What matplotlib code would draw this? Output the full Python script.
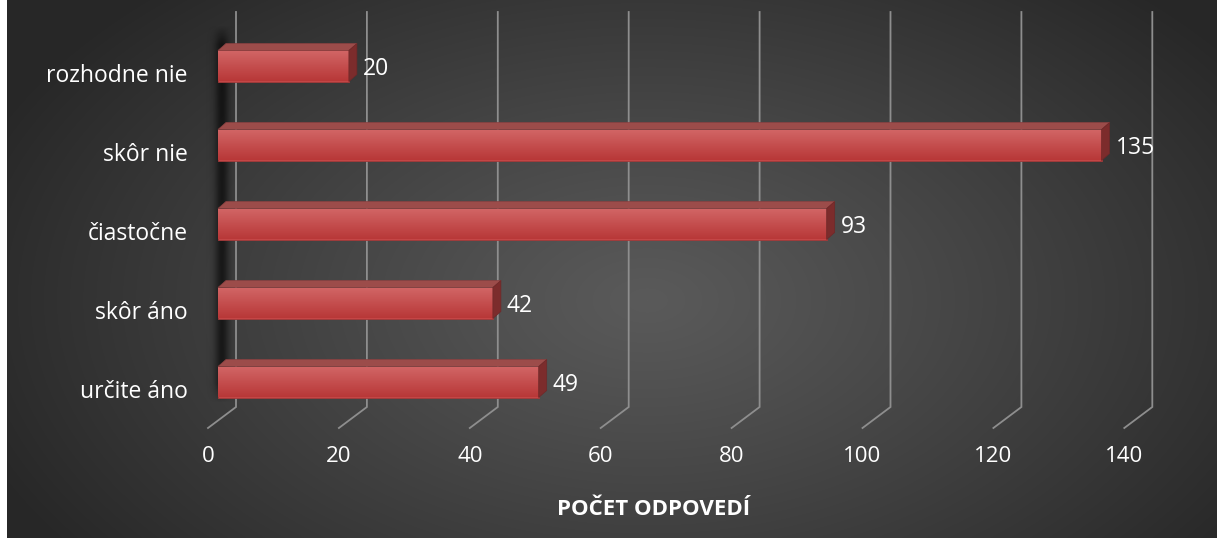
import numpy as np
import matplotlib
matplotlib.use("Agg")
import matplotlib.pyplot as plt
from matplotlib.patches import Polygon

plt.rcParams['font.family'] = ['Open Sans', 'DejaVu Sans']

# ---- data ----
categories = ["určite áno", "skôr áno", "čiastočne", "skôr nie", "rozhodne nie"]
values = [49, 42, 93, 135, 20]
x_ticks = [0, 20, 40, 60, 80, 100, 120, 140]
x_title = "POČET ODPOVEDÍ"

W, H = 1217, 538
fig = plt.figure(figsize=(W / 100, H / 100), dpi=100)
fig.patch.set_facecolor("white")

# ---- dark radial backdrop ----
bg = fig.add_axes([7 / W, 0, 1 - 7 / W, 1])
bg.set_axis_off()
yy, xx = np.mgrid[0:H, 0:W - 7]
r = np.sqrt(((xx - 640) / 720.0) ** 2 + ((yy - 300) / 430.0) ** 2)
r = np.clip(r, 0, 1) ** 1.1
c_in = np.array([0x5a, 0x5a, 0x5a]) / 255
c_out = np.array([0x27, 0x27, 0x27]) / 255
img = c_in[None, None, :] + (c_out - c_in)[None, None, :] * r[..., None]
bg.imshow(img, aspect="auto", extent=(0, 1, 0, 1), interpolation="bilinear")
bg.set_xlim(0, 1)
bg.set_ylim(0, 1)

# ---- chart axes (front plane: value 0 at x=218px, 6.545 px per unit) ----
SX = 6.545          # px per value unit
SY = 79.0           # px per category step
X0, Y0 = 218.0, 382.0
ax = fig.add_axes([0, 0, 1, 1])
ax.set_axis_off()
ax.patch.set_alpha(0)
ax.set_xlim(-X0 / SX, (W - X0) / SX)
ax.set_ylim((Y0 - H) / SY, Y0 / SY)


def px(dx):
    return dx / SX


def py(dy):
    return dy / SY


def yrow(y_img):
    return (Y0 - y_img) / SY


# gridlines: back wall verticals plus floor slants
grid_col = "#8e8e8e"
for t in x_ticks:
    xb = t + px(18)
    xf = t - px(10)
    ax.plot([xb, xb, xf], [yrow(12), yrow(407), yrow(428)],
            color=grid_col, lw=1.3, solid_joinstyle="miter", zorder=1)
    ax.text(xf, yrow(456), f"{t}", color="white", fontsize=16,
            ha="center", va="center", zorder=5)

# soft shadow cast by the side wall
sx = np.linspace(-16, 18, 80)
sy = np.linspace(0, 1, 120)
prof_x = np.exp(-0.5 * ((sx - 4) / 5.0) ** 2)
prof_y = np.clip(np.minimum(sy / 0.05, (1 - sy) / 0.05), 0, 1)
alpha = (prof_y[:, None] * prof_x[None, :]) * 0.6
shadow = np.zeros((120, 80, 4))
shadow[..., 3] = alpha
ax.imshow(shadow, extent=(px(-16), px(18), yrow(404), yrow(24)),
          aspect="auto", interpolation="bilinear", zorder=2)

# ---- 3D bars ----
pos = np.arange(len(categories))
bh = py(31)
ddx, ddy = px(8), py(7)
bars = ax.barh(pos, values, height=bh, left=0, color="#c44646",
               edgecolor="#a33a3a", linewidth=0.6, zorder=4)

grad = np.linspace(0, 1, 64)[:, None]
c_top = np.array([0xd2, 0x66, 0x66]) / 255
c_bot = np.array([0xb8, 0x38, 0x38]) / 255
grad_img = c_top[None, None, :] * (1 - grad[..., None]) + c_bot[None, None, :] * grad[..., None]

for p, v, patch in zip(pos, values, bars):
    y_lo, y_hi = p - bh / 2, p + bh / 2
    im = ax.imshow(grad_img, extent=(0, v, y_lo, y_hi), aspect="auto",
                   interpolation="bilinear", zorder=4)
    im.set_clip_path(patch)
    top = Polygon([(0, y_hi), (v, y_hi), (v + ddx, y_hi + ddy), (ddx, y_hi + ddy)],
                  closed=True, facecolor="#9c4c4a", edgecolor="#8a4040",
                  linewidth=0.5, zorder=4)
    side = Polygon([(v, y_lo), (v, y_hi), (v + ddx, y_hi + ddy), (v + ddx, y_lo + ddy)],
                   closed=True, facecolor="#7c2c2c", edgecolor="#6e2828",
                   linewidth=0.5, zorder=4)
    ax.add_patch(top)
    ax.add_patch(side)
    ax.text(v + px(14), p - py(3), f"{v}", color="white", fontsize=16.5,
            ha="left", va="center", zorder=5)
    ax.text(px(188 - X0), p - py(16), categories[p], color="white",
            fontsize=16.5, ha="right", va="baseline", zorder=5)

ax.text(px(654 - X0), yrow(515), x_title, color="white", fontsize=16,
        fontweight="bold", ha="center", va="baseline", zorder=5)

fig.savefig("out.png", dpi=100, facecolor=fig.get_facecolor())
